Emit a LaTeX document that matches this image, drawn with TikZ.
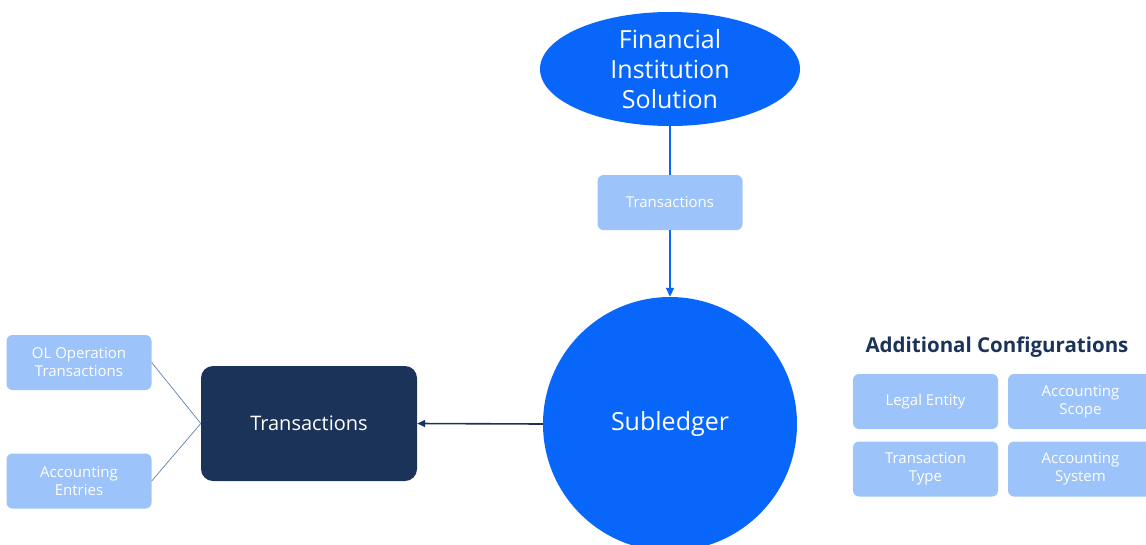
\documentclass[tikz,border=0pt]{standalone}
\usepackage{fontspec}
\setmainfont{Open Sans}
\usetikzlibrary{shapes.geometric,arrows.meta}
\definecolor{brightblue}{RGB}{8,102,250}
\definecolor{paleblue}{RGB}{156,195,250}
\definecolor{navy}{RGB}{27,51,88}
\definecolor{thinline}{RGB}{96,128,182}
\tikzset{
  lightbox/.style={fill=paleblue, rounded corners=6pt, minimum width=145pt, minimum height=55pt,
    text=white, align=center, inner sep=0pt, font=\fontsize{15}{18}\selectfont},
  darkbox/.style={fill=navy, rounded corners=12pt, minimum width=216pt, minimum height=115pt,
    text=white, font=\fontsize{20}{24}\selectfont},
  flow/.style={draw=brightblue, line width=1.8pt, -{Triangle[length=9pt,width=8pt]}},
  feed/.style={draw=thinline, line width=0.7pt},
}
\begin{document}
\begin{tikzpicture}[x=1pt,y=-1pt]
\useasboundingbox (0,0) rectangle (1146,544);
\clip (0,0) rectangle (1146,544);

% main flow: source system, transaction feed, subledger
\node[ellipse, fill=brightblue, minimum width=260pt, minimum height=114pt, inner sep=0pt,
  text=white, align=center, font=\fontsize{25}{30}\selectfont] (fis) at (670,69)
  {Financial\\Institution\\Solution};
\node[lightbox] (feedtx) at (670,202.5) {Transactions};
\node[circle, fill=brightblue, minimum size=254pt, inner sep=0pt, text=white,
  font=\fontsize{25}{30}\selectfont] (sub) at (670,424) {Subledger};

\draw[draw=brightblue, line width=1.8pt] (fis.south) -- (feedtx.north);
\draw[flow] (feedtx.south) -- (sub.north);

% output transactions and their sources
\node[darkbox] (outtx) at (309,423.5) {Transactions};
\draw[draw=navy, line width=1.6pt, -{Triangle[length=8pt,width=7pt]}] (sub.west) -- (outtx.east);

\node[lightbox] (olop) at (79,362.5) {OL Operation\\Transactions};
\node[lightbox] (acent) at (79,481) {Accounting\\Entries};
\draw[feed] (olop.east) -- (outtx.west);
\draw[feed] (acent.east) -- (outtx.west);

% configuration panel
\node[text=navy, font=\fontsize{20.5}{24}\selectfont\bfseries] (cfgtitle) at (997,347) {Additional Configurations};
\node[lightbox] (legal) at (925.5,401.5) {Legal Entity};
\node[lightbox] (scope) at (1080.5,401.5) {Accounting\\Scope};
\node[lightbox] (ttype) at (925.5,469) {Transaction\\Type};
\node[lightbox] (asys) at (1080.5,469) {Accounting\\System};
\end{tikzpicture}
\end{document}
